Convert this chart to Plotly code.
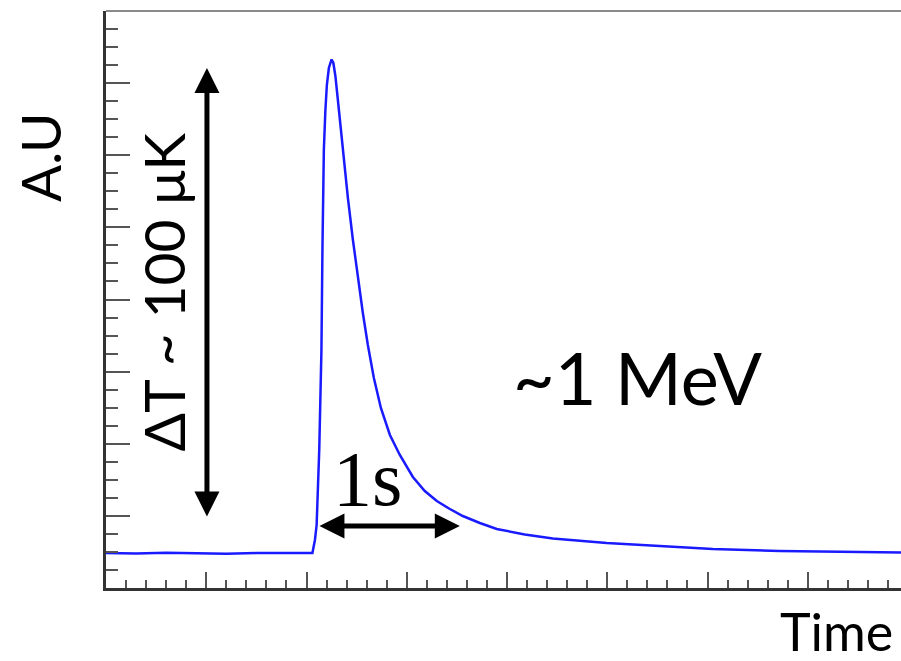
import plotly.graph_objects as go

# ---- data (x in major-tick units, y in A.U.) ----
time_vals = [0.0, 0.3, 0.6, 0.9, 1.2, 1.5, 1.8, 2.059,
             2.084, 2.101, 2.127, 2.137, 2.149, 2.159, 2.173, 2.188, 2.203, 2.223,
             2.250, 2.268, 2.288, 2.313, 2.338, 2.363, 2.413, 2.463, 2.512, 2.562,
             2.612, 2.672, 2.742, 2.832, 2.931, 3.061, 3.180, 3.300, 3.430, 3.559,
             3.729, 3.898, 4.177, 4.457, 4.995, 5.723, 6.052, 6.720, 7.318, 7.93]
signal_vals = [0.485, 0.478, 0.488, 0.480, 0.476, 0.484, 0.479, 0.485,
               0.666, 0.873, 1.913, 2.468, 3.300, 4.686, 6.073, 6.614, 6.974, 7.210,
               7.328, 7.279, 7.099, 6.766, 6.419, 6.073, 5.407, 4.825, 4.298, 3.813,
               3.369, 2.912, 2.496, 2.121, 1.844, 1.539, 1.345, 1.206, 1.095, 0.998,
               0.901, 0.818, 0.742, 0.686, 0.624, 0.568, 0.541, 0.513, 0.499, 0.492]

x_range = [0, 7.93]
y_range = [0, 8]

fig = go.Figure()
fig.add_trace(go.Scatter(x=time_vals, y=signal_vals, mode="lines",
                         line=dict(color="#1a1aff", width=2.5),
                         hoverinfo="skip", showlegend=False))

sans = "Lato, Open Sans, DejaVu Sans, sans-serif"

annotations = [
    dict(text="A.U", x=-0.083, y=0.747, xref="paper", yref="paper", textangle=-90,
         showarrow=False, font=dict(family=sans, size=55, color="black"),
         xanchor="center", yanchor="middle"),
    dict(text="Time", x=0.993, y=-0.074, xref="paper", yref="paper", showarrow=False,
         font=dict(family=sans, size=52, color="black"),
         xanchor="right", yanchor="middle"),
    dict(text="ΔT ~ 100 μK", x=0.57, y=4.1, xref="x", yref="y", textangle=-90,
         showarrow=False, font=dict(family=sans, size=57, color="black"),
         xanchor="center", yanchor="middle"),
    dict(text="~1 MeV", x=5.30, y=2.92, xref="x", yref="y", showarrow=False,
         font=dict(family=sans, size=72, color="black"),
         xanchor="center", yanchor="middle"),
    dict(text="1s", x=2.61, y=1.52, xref="x", yref="y", showarrow=False,
         font=dict(family="Liberation Serif, serif", size=78, color="black"),
         xanchor="center", yanchor="middle"),
    # vertical double arrow
    dict(x=1.007, y=7.21, ax=1.007, ay=0.97, xref="x", yref="y", axref="x", ayref="y",
         text="", showarrow=True, arrowhead=2, startarrowhead=2, arrowside="end+start",
         arrowwidth=5, arrowsize=1, startarrowsize=1, arrowcolor="black",
         standoff=0, startstandoff=0),
    # horizontal double arrow
    dict(x=3.529, y=0.86, ax=2.114, ay=0.86, xref="x", yref="y", axref="x", ayref="y",
         text="", showarrow=True, arrowhead=2, startarrowhead=2, arrowside="end+start",
         arrowwidth=5, arrowsize=1, startarrowsize=1, arrowcolor="black",
         standoff=0, startstandoff=0),
]

fig.update_layout(
    width=901, height=661,
    margin=dict(l=106, r=0, t=11, b=73),
    paper_bgcolor="white", plot_bgcolor="white",
    annotations=annotations,
    shapes=[dict(type="line", xref="paper", yref="paper", x0=0, x1=1, y0=1, y1=1,
                 line=dict(color="#8a8a8a", width=2))],
)

fig.update_xaxes(range=x_range, showgrid=False, zeroline=False, showticklabels=False,
                 showline=True, linecolor="#333333", linewidth=2.5,
                 ticks="inside", dtick=1, tick0=0, ticklen=16, tickwidth=1.5,
                 tickcolor="#555555",
                 minor=dict(ticks="inside", dtick=0.2, ticklen=8, tickwidth=1.5,
                            tickcolor="#555555", showgrid=False))
fig.update_yaxes(range=y_range, showgrid=False, zeroline=False, showticklabels=False,
                 showline=True, linecolor="#333333", linewidth=3,
                 ticks="inside", dtick=1, tick0=0, ticklen=24, tickwidth=2,
                 tickcolor="#555555",
                 minor=dict(ticks="inside", dtick=0.25, ticklen=12, tickwidth=2,
                            tickcolor="#555555", showgrid=False))

fig.write_html("out.html", config={"displayModeBar": False},
               post_script="document.body.style.margin='0';document.body.style.overflow='hidden';")
